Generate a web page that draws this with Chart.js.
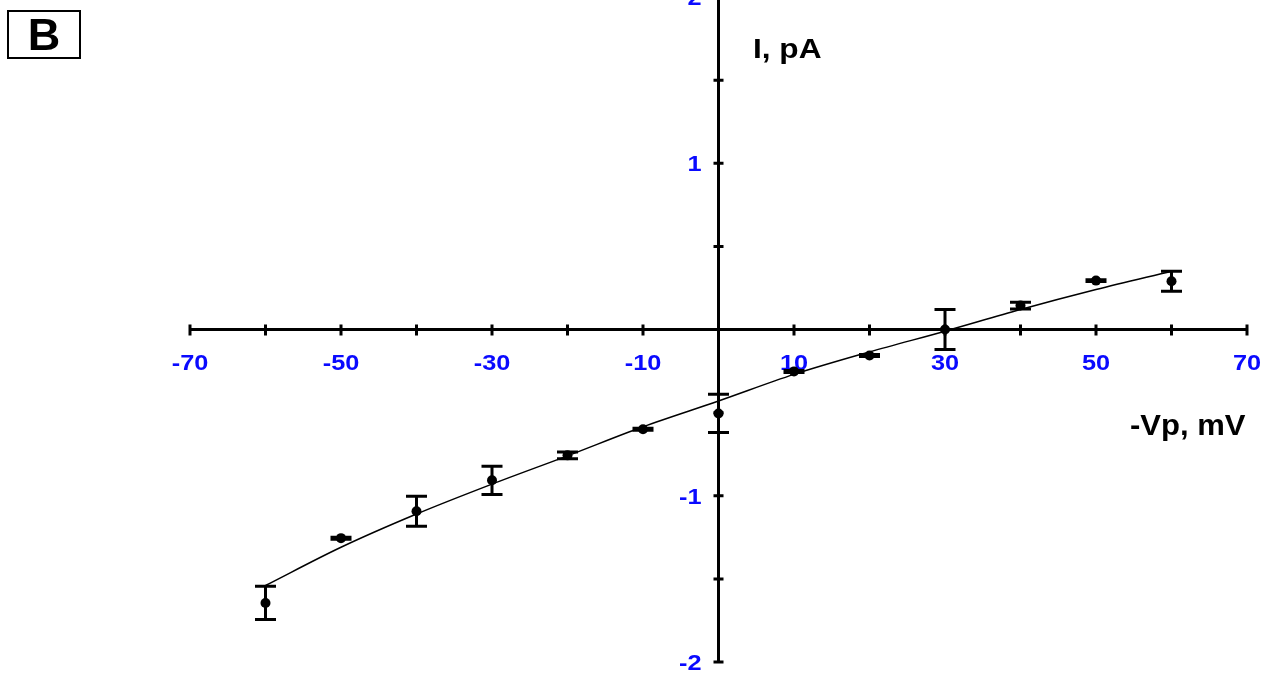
<!DOCTYPE html>
<html>
<head>
<meta charset="utf-8">
<script src="https://cdn.jsdelivr.net/npm/chart.js@4/dist/chart.umd.min.js"></script>
<style>
  body { margin: 0; background: #fff; }
  #wrap { position: relative; width: 1263px; height: 675px; overflow: hidden; }
  /* canvas is taller and shifted up so the top tick "2" is cut off like the original */
  #chart { position: absolute; left: 0; top: -8px; }
  .lbl {
    position: absolute;
    font-family: 'Liberation Sans', Arial, sans-serif;
    font-weight: bold;
    color: #000;
    white-space: nowrap;
    transform-origin: left top;
  }
  #panel {
    position: absolute;
    left: 7px; top: 10px;
    width: 70px; height: 45px;
    border: 2px solid #000;
    font-family: 'Liberation Sans', Arial, sans-serif;
    font-weight: bold;
    font-size: 45px;
    line-height: 46px;
    text-align: center;
  }
</style>
</head>
<body>
<div id="wrap">
  <canvas id="chart" width="1263" height="683"></canvas>
  <div id="panel">B</div>
  <div class="lbl" style="left:753px; top:33px; font-size:28px; transform:scaleX(1.13);">I, pA</div>
  <div class="lbl" style="left:1130px; top:409px; font-size:29px; transform:scaleX(1.07);">-Vp, mV</div>
</div>
<script>
// membrane potential (mV) and mean current (pA)
const voltages = [-60, -50, -40, -30, -20, -10, 0, 10, 20, 30, 40, 50, 60];
const currents = [-1.645, -1.255, -1.093, -0.907, -0.757, -0.60, -0.505, -0.252, -0.156, 0.0, 0.144, 0.294, 0.29];
const errors = [0.10, 0.006, 0.09, 0.085, 0.02, 0.006, 0.115, 0.006, 0.006, 0.12, 0.02, 0.006, 0.06];

// fitted curve
const fitV = [-60, -50, -40, -30, -20, -10, 0, 10, 20, 30, 40, 50, 60];
const fitI = [-1.54, -1.31, -1.11, -0.93, -0.76, -0.585, -0.43, -0.27, -0.135, -0.01, 0.12, 0.24, 0.35];

// labelled ticks
const xTickLabels = [-70, -50, -30, -10, 10, 30, 50, 70];
const yTickLabels = [-2, -1, 1, 2];

const TICK_BLUE = '#0a0aff';
const TICK_FONT = "bold 22px 'Liberation Sans', Arial, sans-serif";

// axes cross at the origin, ticks go through the axis line
const axesPlugin = {
  id: 'crossAxes',
  beforeDatasetsDraw(chart) {
    const { ctx, scales: { x, y } } = chart;
    const x0 = x.getPixelForValue(0);
    const y0 = y.getPixelForValue(0);
    ctx.save();
    ctx.strokeStyle = '#000';
    ctx.lineWidth = 3;
    ctx.beginPath();
    ctx.moveTo(x.getPixelForValue(x.min), y0);
    ctx.lineTo(x.getPixelForValue(x.max), y0);
    ctx.moveTo(x0, y.getPixelForValue(y.min));
    ctx.lineTo(x0, y.getPixelForValue(y.max));
    x.ticks.forEach(t => {
      if (t.value === 0) return;
      const px = x.getPixelForValue(t.value);
      ctx.moveTo(px, y0 - 5);
      ctx.lineTo(px, y0 + 6);
    });
    y.ticks.forEach(t => {
      if (t.value === 0) return;
      const py = y.getPixelForValue(t.value);
      ctx.moveTo(x0 - 5, py);
      ctx.lineTo(x0 + 5, py);
    });
    ctx.stroke();

    // tick labels, slightly stretched like the original
    ctx.fillStyle = TICK_BLUE;
    ctx.font = TICK_FONT;
    ctx.textBaseline = 'alphabetic';
    ctx.textAlign = 'center';
    xTickLabels.forEach(v => {
      ctx.save();
      ctx.translate(x.getPixelForValue(v), y0 + 40);
      ctx.scale(1.15, 1);
      ctx.fillText(String(v), 0, 0);
      ctx.restore();
    });
    ctx.textAlign = 'right';
    yTickLabels.forEach(v => {
      ctx.save();
      ctx.translate(x0 - 17, y.getPixelForValue(v) + 8);
      ctx.scale(1.15, 1);
      ctx.fillText(String(v), 0, 0);
      ctx.restore();
    });
    ctx.restore();
  }
};

const errorBarPlugin = {
  id: 'errorBars',
  afterDatasetsDraw(chart) {
    const { ctx, scales: { x, y } } = chart;
    ctx.save();
    ctx.strokeStyle = '#000';
    ctx.lineWidth = 3;
    ctx.beginPath();
    voltages.forEach((v, i) => {
      const px = x.getPixelForValue(v);
      const top = y.getPixelForValue(currents[i] + errors[i]);
      const bot = y.getPixelForValue(currents[i] - errors[i]);
      ctx.moveTo(px, top);
      ctx.lineTo(px, bot);
      ctx.moveTo(px - 10.5, top);
      ctx.lineTo(px + 10.5, top);
      ctx.moveTo(px - 10.5, bot);
      ctx.lineTo(px + 10.5, bot);
    });
    ctx.stroke();
    ctx.restore();
  }
};

new Chart(document.getElementById('chart'), {
  type: 'scatter',
  data: {
    datasets: [
      {
        label: 'fit',
        data: fitV.map((v, i) => ({ x: v, y: fitI[i] })),
        showLine: true,
        borderColor: '#000',
        borderWidth: 1.5,
        pointRadius: 0,
        tension: 0.4,
        cubicInterpolationMode: 'monotone'
      },
      {
        label: 'mean',
        data: voltages.map((v, i) => ({ x: v, y: currents[i] })),
        backgroundColor: '#000',
        borderColor: '#000',
        pointRadius: 5,
        pointBorderWidth: 0
      }
    ]
  },
  options: {
    responsive: false,
    animation: false,
    clip: false,
    layout: {
      padding: { left: 190, right: 16, top: 0, bottom: 13 }
    },
    plugins: {
      legend: { display: false },
      tooltip: { enabled: false }
    },
    scales: {
      x: {
        type: 'linear',
        position: { y: 0 },
        min: -70,
        max: 70,
        grid: { display: false, drawTicks: false },
        border: { display: false },
        ticks: { stepSize: 10, display: false }
      },
      y: {
        type: 'linear',
        position: { x: 0 },
        min: -2,
        max: 2,
        grid: { display: false, drawTicks: false },
        border: { display: false },
        ticks: { stepSize: 0.5, display: false }
      }
    }
  },
  plugins: [axesPlugin, errorBarPlugin]
});
</script>
</body>
</html>
